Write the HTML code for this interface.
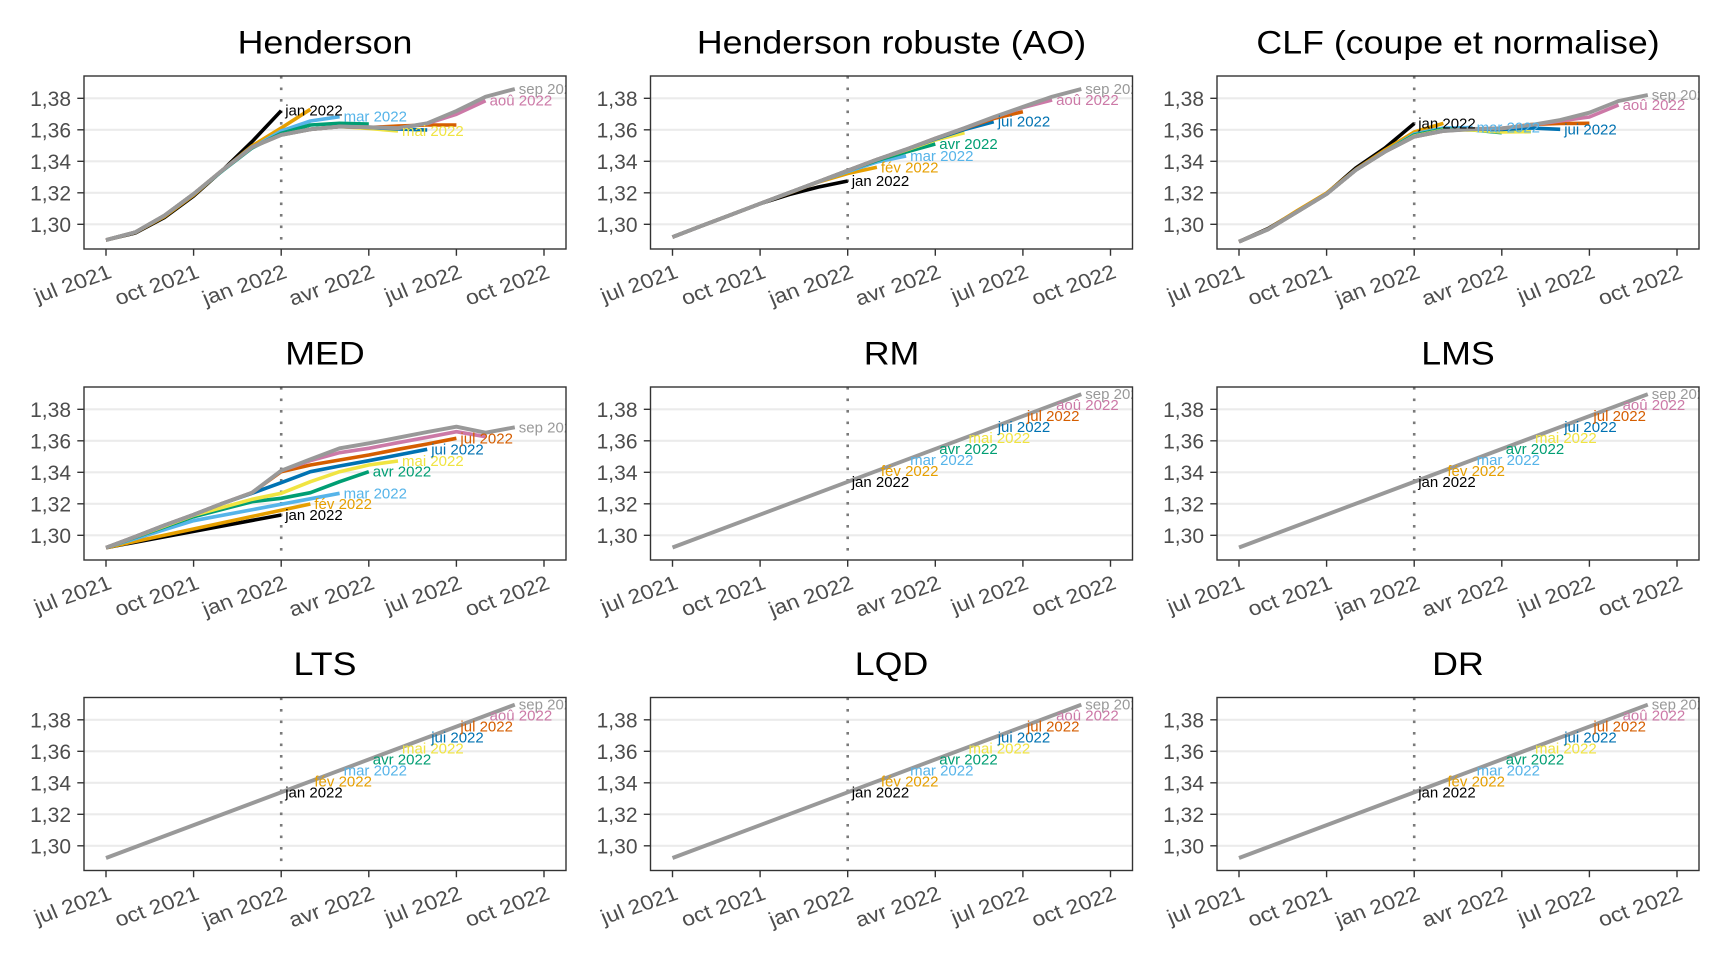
<!DOCTYPE html>
<html><head><meta charset="utf-8">
<style>
html,body{margin:0;padding:0;background:#fff;}
svg{display:block;}
text{font-family:"Liberation Sans",Arial,Helvetica,sans-serif;}
.t{font-size:32.5px;fill:#000;text-anchor:middle;}
.yl{font-size:21px;fill:#4D4D4D;text-anchor:end;}
.xl{font-size:20.5px;fill:#4D4D4D;text-anchor:end;}
.lb{font-size:15px;}
.s{fill:none;stroke-width:3.6;stroke-linejoin:round;stroke-linecap:butt;}
.g{fill:none;stroke:#999999;stroke-width:3.9;stroke-linejoin:round;}
</style></head>
<body>
<svg width="1728" height="960" viewBox="0 0 1728 960" xmlns="http://www.w3.org/2000/svg">
<rect width="1728" height="960" fill="#fff"/>
<defs>
<clipPath id="cp"><rect x="0" y="0" width="482" height="173"/></clipPath>
<g id="bg">
<rect x="0" y="0" width="482" height="173" fill="#fff"/>
<path d="M0,22.3H482M0,53.8H482M0,85.3H482M0,116.8H482M0,148.3H482" stroke="#EBEBEB" stroke-width="2.2" fill="none"/>
<line x1="197.2" y1="0" x2="197.2" y2="173" stroke="#7a7a7a" stroke-width="2.6" stroke-dasharray="2.6 8.9"/>
</g>
<g id="fr">
<rect x="0" y="0" width="482" height="173" fill="none" stroke="#333333" stroke-width="1.4"/>
<path d="M-6.7,22.3H0M-6.7,53.8H0M-6.7,85.3H0M-6.7,116.8H0M-6.7,148.3H0M22,173V179.7M109.6,173V179.7M197.2,173V179.7M284.8,173V179.7M372.4,173V179.7M460,173V179.7" stroke="#333333" stroke-width="1.4" fill="none"/>
</g>
</defs>

<!-- Panel 1: Henderson -->
<g transform="translate(84,76)">
<use href="#bg"/>
<g clip-path="url(#cp)">
<path class="s" stroke="#000000" d="M22,164L51.2,157L80.4,141.5L109.6,120L138.8,94L168,65.7L197.2,34.7"/>
<path class="s" stroke="#E69F00" d="M22,164L51.2,156.5L80.4,140.5L109.6,119L138.8,94L168,70L197.2,52L226.4,33.3"/>
<path class="s" stroke="#56B4E9" d="M22,164L51.2,156.3L80.4,139.6L109.6,118L138.8,94.5L168,72L197.2,55L226.4,45L255.6,40.7"/>
<path class="s" stroke="#009E73" d="M22,164L51.2,156.3L80.4,139.6L109.6,118L138.8,94.5L168,72L197.2,57.3L226.4,49L255.6,47.3L284.8,48"/>
<path class="s" stroke="#F0E442" d="M22,164L51.2,156.3L80.4,139.6L109.6,118L138.8,93.9L168,71.2L197.2,58.9L226.4,53.3L255.6,50.6L284.8,52.5L314,55"/>
<path class="s" stroke="#0072B2" d="M22,164L51.2,156.3L80.4,139.6L109.6,118L138.8,93.9L168,71.2L197.2,58.9L226.4,53.3L255.6,50.6L284.8,51.5L314,53L343.2,54"/>
<path class="s" stroke="#D55E00" d="M22,164L51.2,156.3L80.4,139.6L109.6,118L138.8,93.9L168,71.2L197.2,58.9L226.4,53.3L255.6,50.6L284.8,51.5L314,50L343.2,49L372.4,49"/>
<path class="s" stroke="#CC79A7" d="M22,164L51.2,156.3L80.4,139.6L109.6,118L138.8,93.9L168,71.2L197.2,58.9L226.4,53.3L255.6,50.6L284.8,51.2L314,52L343.2,47.5L372.4,38.3L401.6,24.7"/>
<path class="g" d="M22,164L51.2,156.3L80.4,139.6L109.6,118L138.8,93.9L168,71.2L197.2,58.9L226.4,53.3L255.6,50.6L284.8,51.2L314,52.2L343.2,47.3L372.4,35L401.6,20.7L430.8,13"/>
<text class="lb" x="201.2" y="39.7" fill="#000000">jan 2022</text>
<text class="lb" x="259.6" y="45.7" fill="#56B4E9">mar 2022</text>
<text class="lb" x="318" y="60" fill="#F0E442">mai 2022</text>
<text class="lb" x="405.6" y="29.7" fill="#CC79A7">aoû 2022</text>
<text class="lb" x="434.8" y="18" fill="#999999">sep 2022</text>
</g>
<use href="#fr"/>
<text class="t" transform="translate(241,-22.3) scale(1.1,1)">Henderson</text>
<text class="yl" x="-13" y="29.8">1,38</text><text class="yl" x="-13" y="61.3">1,36</text><text class="yl" x="-13" y="92.8">1,34</text><text class="yl" x="-13" y="124.3">1,32</text><text class="yl" x="-13" y="155.8">1,30</text>
<text class="xl" transform="translate(23,187.5) scale(1.12,1) rotate(-21)" y="14.8">jul 2021</text>
<text class="xl" transform="translate(110.6,187.5) scale(1.12,1) rotate(-21)" y="14.8">oct 2021</text>
<text class="xl" transform="translate(198.2,187.5) scale(1.12,1) rotate(-21)" y="14.8">jan 2022</text>
<text class="xl" transform="translate(285.8,187.5) scale(1.12,1) rotate(-21)" y="14.8">avr 2022</text>
<text class="xl" transform="translate(373.4,187.5) scale(1.12,1) rotate(-21)" y="14.8">jul 2022</text>
<text class="xl" transform="translate(461,187.5) scale(1.12,1) rotate(-21)" y="14.8">oct 2022</text>
</g>

<!-- Panel 2: Henderson robuste (AO) -->
<g transform="translate(650.5,76)">
<use href="#bg"/>
<g clip-path="url(#cp)">
<path class="s" stroke="#000000" d="M22,161.1L51.2,149.8L80.4,138.8L109.6,127.7L138.8,118.5L168,111L197.2,105"/>
<path class="s" stroke="#E69F00" d="M22,161.1L51.2,149.8L80.4,138.8L109.6,127.7L138.8,117L168,106L197.2,97.5L226.4,91.3"/>
<path class="s" stroke="#56B4E9" d="M22,161.1L51.2,149.8L80.4,138.8L109.6,127.7L138.8,116.7L168,105.7L197.2,95.5L226.4,86L255.6,80"/>
<path class="s" stroke="#009E73" d="M22,161.1L51.2,149.8L80.4,138.8L109.6,127.7L138.8,116.7L168,105.7L197.2,94.6L226.4,84.5L255.6,76L284.8,68"/>
<path class="s" stroke="#F0E442" d="M22,161.1L51.2,149.8L80.4,138.8L109.6,127.7L138.8,116.7L168,105.7L197.2,94.6L226.4,83.6L255.6,74L284.8,64L314,56.7"/>
<path class="s" stroke="#0072B2" d="M22,161.1L51.2,149.8L80.4,138.8L109.6,127.7L138.8,116.7L168,105.7L197.2,94.6L226.4,83.6L255.6,73.4L284.8,63L314,53.5L343.2,45.7"/>
<path class="s" stroke="#D55E00" d="M22,161.1L51.2,149.8L80.4,138.8L109.6,127.7L138.8,116.7L168,105.7L197.2,94.6L226.4,83.6L255.6,73.4L284.8,62.4L314,52.5L343.2,42.5L372.4,35.7"/>
<path class="s" stroke="#CC79A7" d="M22,161.1L51.2,149.8L80.4,138.8L109.6,127.7L138.8,116.7L168,105.7L197.2,94.6L226.4,83.6L255.6,73.4L284.8,62.4L314,52.1L343.2,41.3L372.4,31.5L401.6,24"/>
<path class="g" d="M22,161.1L51.2,149.8L80.4,138.8L109.6,127.7L138.8,116.7L168,105.7L197.2,94.6L226.4,83.6L255.6,73.4L284.8,62.4L314,52.1L343.2,41.1L372.4,30.9L401.6,20.7L430.8,13"/>
<text class="lb" x="201.2" y="110" fill="#000000">jan 2022</text>
<text class="lb" x="230.4" y="96.3" fill="#E69F00">fév 2022</text>
<text class="lb" x="259.6" y="85" fill="#56B4E9">mar 2022</text>
<text class="lb" x="288.8" y="73" fill="#009E73">avr 2022</text>
<text class="lb" x="347.2" y="50.7" fill="#0072B2">jui 2022</text>
<text class="lb" x="405.6" y="29" fill="#CC79A7">aoû 2022</text>
<text class="lb" x="434.8" y="18" fill="#999999">sep 2022</text>
</g>
<use href="#fr"/>
<text class="t" transform="translate(241,-22.3) scale(1.1,1)">Henderson robuste (AO)</text>
<text class="yl" x="-13" y="29.8">1,38</text><text class="yl" x="-13" y="61.3">1,36</text><text class="yl" x="-13" y="92.8">1,34</text><text class="yl" x="-13" y="124.3">1,32</text><text class="yl" x="-13" y="155.8">1,30</text>
<text class="xl" transform="translate(23,187.5) scale(1.12,1) rotate(-21)" y="14.8">jul 2021</text>
<text class="xl" transform="translate(110.6,187.5) scale(1.12,1) rotate(-21)" y="14.8">oct 2021</text>
<text class="xl" transform="translate(198.2,187.5) scale(1.12,1) rotate(-21)" y="14.8">jan 2022</text>
<text class="xl" transform="translate(285.8,187.5) scale(1.12,1) rotate(-21)" y="14.8">avr 2022</text>
<text class="xl" transform="translate(373.4,187.5) scale(1.12,1) rotate(-21)" y="14.8">jul 2022</text>
<text class="xl" transform="translate(461,187.5) scale(1.12,1) rotate(-21)" y="14.8">oct 2022</text>
</g>

<!-- Panel 3: CLF -->
<g transform="translate(1217,76)">
<use href="#bg"/>
<g clip-path="url(#cp)">
<path class="s" stroke="#000000" d="M22,165.7L51.2,152.5L80.4,135L109.6,117.5L138.8,92L168,72L197.2,47.5"/>
<path class="s" stroke="#E69F00" d="M22,165.7L51.2,153L80.4,134.5L109.6,117L138.8,93.5L168,74L197.2,56L226.4,47.3"/>
<path class="s" stroke="#56B4E9" d="M22,165.7L51.2,153.3L80.4,135.7L109.6,118L138.8,94L168,75.7L197.2,58L226.4,52L255.6,51.5"/>
<path class="s" stroke="#009E73" d="M22,165.7L51.2,153.3L80.4,135.7L109.6,118L138.8,94L168,75.7L197.2,59L226.4,53L255.6,54L284.8,56.7"/>
<path class="s" stroke="#F0E442" d="M22,165.7L51.2,153.3L80.4,135.7L109.6,118L138.8,94L168,75.7L197.2,60L226.4,54L255.6,54L284.8,56L314,55.7"/>
<path class="s" stroke="#0072B2" d="M22,165.7L51.2,153.3L80.4,135.7L109.6,118L138.8,94L168,75.7L197.2,60.5L226.4,54.5L255.6,53L284.8,53.5L314,52L343.2,53.3"/>
<path class="s" stroke="#D55E00" d="M22,165.7L51.2,153.3L80.4,135.7L109.6,118L138.8,94L168,75.7L197.2,60.7L226.4,55L255.6,53L284.8,52.5L314,48.5L343.2,47.5L372.4,47.3"/>
<path class="s" stroke="#CC79A7" d="M22,165.7L51.2,153.3L80.4,135.7L109.6,118L138.8,94L168,75.7L197.2,60.7L226.4,55L255.6,53L284.8,52.3L314,49L343.2,45L372.4,41L401.6,29"/>
<path class="g" d="M22,165.7L51.2,153.3L80.4,135.7L109.6,118L138.8,94L168,75.7L197.2,60.7L226.4,55L255.6,53L284.8,52.3L314,49L343.2,44L372.4,36.7L401.6,25L430.8,19"/>
<text class="lb" x="201.2" y="52.5" fill="#000000">jan 2022</text>
<text class="lb" x="259.6" y="56.5" fill="#56B4E9">mar 2022</text>
<text class="lb" x="347.2" y="58.3" fill="#0072B2">jui 2022</text>
<text class="lb" x="405.6" y="34" fill="#CC79A7">aoû 2022</text>
<text class="lb" x="434.8" y="24" fill="#999999">sep 2022</text>
</g>
<use href="#fr"/>
<text class="t" transform="translate(241,-22.3) scale(1.1,1)">CLF (coupe et normalise)</text>
<text class="yl" x="-13" y="29.8">1,38</text><text class="yl" x="-13" y="61.3">1,36</text><text class="yl" x="-13" y="92.8">1,34</text><text class="yl" x="-13" y="124.3">1,32</text><text class="yl" x="-13" y="155.8">1,30</text>
<text class="xl" transform="translate(23,187.5) scale(1.12,1) rotate(-21)" y="14.8">jul 2021</text>
<text class="xl" transform="translate(110.6,187.5) scale(1.12,1) rotate(-21)" y="14.8">oct 2021</text>
<text class="xl" transform="translate(198.2,187.5) scale(1.12,1) rotate(-21)" y="14.8">jan 2022</text>
<text class="xl" transform="translate(285.8,187.5) scale(1.12,1) rotate(-21)" y="14.8">avr 2022</text>
<text class="xl" transform="translate(373.4,187.5) scale(1.12,1) rotate(-21)" y="14.8">jul 2022</text>
<text class="xl" transform="translate(461,187.5) scale(1.12,1) rotate(-21)" y="14.8">oct 2022</text>
</g>

<!-- Panel 4: MED -->
<g transform="translate(84,387)">
<use href="#bg"/>
<g clip-path="url(#cp)">
<path class="s" stroke="#000000" d="M22,160.7L197.2,128"/>
<path class="s" stroke="#E69F00" d="M22,160.7L226.4,117"/>
<path class="s" stroke="#56B4E9" d="M22,160.7L109.6,133.7L255.6,106.3"/>
<path class="s" stroke="#009E73" d="M22,160.7L109.6,129.7L168,114.7L197.2,111.3L226.4,105.7L255.6,94.7L284.8,84.7"/>
<path class="s" stroke="#F0E442" d="M22,160.7L109.6,128.3L168,112.3L197.2,106.3L226.4,94.7L255.6,84.7L284.8,78L314,74"/>
<path class="s" stroke="#0072B2" d="M22,160.7L51.2,149.7L80.4,138.3L109.6,127.7L138.8,116.3L168,106.3L197.2,95.7L226.4,84.7L255.6,79L284.8,73.7L314,68L343.2,62.3"/>
<path class="s" stroke="#D55E00" d="M22,160.7L51.2,149.7L80.4,138.3L109.6,127.7L138.8,116.3L168,105.7L197.2,84.7L226.4,78L255.6,73L284.8,68L314,62.3L343.2,57L372.4,51.3"/>
<path class="s" stroke="#CC79A7" d="M22,160.7L51.2,149.7L80.4,138.3L109.6,127.7L138.8,116.3L168,105.7L197.2,83.7L226.4,73.7L255.6,65.7L284.8,61.3L314,55.7L343.2,50.3L372.4,44.7L401.6,49.7"/>
<path class="g" d="M22,160.7L51.2,149.7L80.4,138.3L109.6,127.7L138.8,116.3L168,105.7L197.2,83.7L226.4,72.3L255.6,61.3L284.8,56.3L314,50.7L343.2,45L372.4,39.7L401.6,45.7L430.8,40.3"/>
<text class="lb" x="201.2" y="133" fill="#000000">jan 2022</text>
<text class="lb" x="230.4" y="122" fill="#E69F00">fév 2022</text>
<text class="lb" x="259.6" y="111.3" fill="#56B4E9">mar 2022</text>
<text class="lb" x="288.8" y="89.7" fill="#009E73">avr 2022</text>
<text class="lb" x="318" y="79" fill="#F0E442">mai 2022</text>
<text class="lb" x="347.2" y="67.3" fill="#0072B2">jui 2022</text>
<text class="lb" x="376.4" y="56.3" fill="#D55E00">jul 2022</text>
<text class="lb" x="434.8" y="45.3" fill="#999999">sep 2022</text>
</g>
<use href="#fr"/>
<text class="t" transform="translate(241,-22.3) scale(1.1,1)">MED</text>
<text class="yl" x="-13" y="29.8">1,38</text><text class="yl" x="-13" y="61.3">1,36</text><text class="yl" x="-13" y="92.8">1,34</text><text class="yl" x="-13" y="124.3">1,32</text><text class="yl" x="-13" y="155.8">1,30</text>
<text class="xl" transform="translate(23,187.5) scale(1.12,1) rotate(-21)" y="14.8">jul 2021</text>
<text class="xl" transform="translate(110.6,187.5) scale(1.12,1) rotate(-21)" y="14.8">oct 2021</text>
<text class="xl" transform="translate(198.2,187.5) scale(1.12,1) rotate(-21)" y="14.8">jan 2022</text>
<text class="xl" transform="translate(285.8,187.5) scale(1.12,1) rotate(-21)" y="14.8">avr 2022</text>
<text class="xl" transform="translate(373.4,187.5) scale(1.12,1) rotate(-21)" y="14.8">jul 2022</text>
<text class="xl" transform="translate(461,187.5) scale(1.12,1) rotate(-21)" y="14.8">oct 2022</text>
</g>

<!-- Panel 5: RM -->
<g transform="translate(650.5,387)">
<use href="#bg"/>
<g clip-path="url(#cp)">
<path class="g" d="M22,160.5L430.8,7.2"/>
<text class="lb" x="201.2" y="99.8" fill="#000000">jan 2022</text>
<text class="lb" x="230.4" y="88.9" fill="#E69F00">fév 2022</text>
<text class="lb" x="259.6" y="77.9" fill="#56B4E9">mar 2022</text>
<text class="lb" x="288.8" y="67" fill="#009E73">avr 2022</text>
<text class="lb" x="318" y="56" fill="#F0E442">mai 2022</text>
<text class="lb" x="347.2" y="45.1" fill="#0072B2">jui 2022</text>
<text class="lb" x="376.4" y="34.1" fill="#D55E00">jul 2022</text>
<text class="lb" x="405.6" y="23.2" fill="#CC79A7">aoû 2022</text>
<text class="lb" x="434.8" y="12.2" fill="#999999">sep 2022</text>
</g>
<use href="#fr"/>
<text class="t" transform="translate(241,-22.3) scale(1.1,1)">RM</text>
<text class="yl" x="-13" y="29.8">1,38</text><text class="yl" x="-13" y="61.3">1,36</text><text class="yl" x="-13" y="92.8">1,34</text><text class="yl" x="-13" y="124.3">1,32</text><text class="yl" x="-13" y="155.8">1,30</text>
<text class="xl" transform="translate(23,187.5) scale(1.12,1) rotate(-21)" y="14.8">jul 2021</text>
<text class="xl" transform="translate(110.6,187.5) scale(1.12,1) rotate(-21)" y="14.8">oct 2021</text>
<text class="xl" transform="translate(198.2,187.5) scale(1.12,1) rotate(-21)" y="14.8">jan 2022</text>
<text class="xl" transform="translate(285.8,187.5) scale(1.12,1) rotate(-21)" y="14.8">avr 2022</text>
<text class="xl" transform="translate(373.4,187.5) scale(1.12,1) rotate(-21)" y="14.8">jul 2022</text>
<text class="xl" transform="translate(461,187.5) scale(1.12,1) rotate(-21)" y="14.8">oct 2022</text>
</g>

<!-- Panel 6: LMS -->
<g transform="translate(1217,387)">
<use href="#bg"/>
<g clip-path="url(#cp)">
<path class="g" d="M22,160.5L430.8,7.2"/>
<text class="lb" x="201.2" y="99.8" fill="#000000">jan 2022</text>
<text class="lb" x="230.4" y="88.9" fill="#E69F00">fév 2022</text>
<text class="lb" x="259.6" y="77.9" fill="#56B4E9">mar 2022</text>
<text class="lb" x="288.8" y="67" fill="#009E73">avr 2022</text>
<text class="lb" x="318" y="56" fill="#F0E442">mai 2022</text>
<text class="lb" x="347.2" y="45.1" fill="#0072B2">jui 2022</text>
<text class="lb" x="376.4" y="34.1" fill="#D55E00">jul 2022</text>
<text class="lb" x="405.6" y="23.2" fill="#CC79A7">aoû 2022</text>
<text class="lb" x="434.8" y="12.2" fill="#999999">sep 2022</text>
</g>
<use href="#fr"/>
<text class="t" transform="translate(241,-22.3) scale(1.1,1)">LMS</text>
<text class="yl" x="-13" y="29.8">1,38</text><text class="yl" x="-13" y="61.3">1,36</text><text class="yl" x="-13" y="92.8">1,34</text><text class="yl" x="-13" y="124.3">1,32</text><text class="yl" x="-13" y="155.8">1,30</text>
<text class="xl" transform="translate(23,187.5) scale(1.12,1) rotate(-21)" y="14.8">jul 2021</text>
<text class="xl" transform="translate(110.6,187.5) scale(1.12,1) rotate(-21)" y="14.8">oct 2021</text>
<text class="xl" transform="translate(198.2,187.5) scale(1.12,1) rotate(-21)" y="14.8">jan 2022</text>
<text class="xl" transform="translate(285.8,187.5) scale(1.12,1) rotate(-21)" y="14.8">avr 2022</text>
<text class="xl" transform="translate(373.4,187.5) scale(1.12,1) rotate(-21)" y="14.8">jul 2022</text>
<text class="xl" transform="translate(461,187.5) scale(1.12,1) rotate(-21)" y="14.8">oct 2022</text>
</g>

<!-- Panel 7: LTS -->
<g transform="translate(84,697.5)">
<use href="#bg"/>
<g clip-path="url(#cp)">
<path class="g" d="M22,160.5L430.8,7.2"/>
<text class="lb" x="201.2" y="99.8" fill="#000000">jan 2022</text>
<text class="lb" x="230.4" y="88.9" fill="#E69F00">fév 2022</text>
<text class="lb" x="259.6" y="77.9" fill="#56B4E9">mar 2022</text>
<text class="lb" x="288.8" y="67" fill="#009E73">avr 2022</text>
<text class="lb" x="318" y="56" fill="#F0E442">mai 2022</text>
<text class="lb" x="347.2" y="45.1" fill="#0072B2">jui 2022</text>
<text class="lb" x="376.4" y="34.1" fill="#D55E00">jul 2022</text>
<text class="lb" x="405.6" y="23.2" fill="#CC79A7">aoû 2022</text>
<text class="lb" x="434.8" y="12.2" fill="#999999">sep 2022</text>
</g>
<use href="#fr"/>
<text class="t" transform="translate(241,-22.3) scale(1.1,1)">LTS</text>
<text class="yl" x="-13" y="29.8">1,38</text><text class="yl" x="-13" y="61.3">1,36</text><text class="yl" x="-13" y="92.8">1,34</text><text class="yl" x="-13" y="124.3">1,32</text><text class="yl" x="-13" y="155.8">1,30</text>
<text class="xl" transform="translate(23,187.5) scale(1.12,1) rotate(-21)" y="14.8">jul 2021</text>
<text class="xl" transform="translate(110.6,187.5) scale(1.12,1) rotate(-21)" y="14.8">oct 2021</text>
<text class="xl" transform="translate(198.2,187.5) scale(1.12,1) rotate(-21)" y="14.8">jan 2022</text>
<text class="xl" transform="translate(285.8,187.5) scale(1.12,1) rotate(-21)" y="14.8">avr 2022</text>
<text class="xl" transform="translate(373.4,187.5) scale(1.12,1) rotate(-21)" y="14.8">jul 2022</text>
<text class="xl" transform="translate(461,187.5) scale(1.12,1) rotate(-21)" y="14.8">oct 2022</text>
</g>

<!-- Panel 8: LQD -->
<g transform="translate(650.5,697.5)">
<use href="#bg"/>
<g clip-path="url(#cp)">
<path class="g" d="M22,160.5L430.8,7.2"/>
<text class="lb" x="201.2" y="99.8" fill="#000000">jan 2022</text>
<text class="lb" x="230.4" y="88.9" fill="#E69F00">fév 2022</text>
<text class="lb" x="259.6" y="77.9" fill="#56B4E9">mar 2022</text>
<text class="lb" x="288.8" y="67" fill="#009E73">avr 2022</text>
<text class="lb" x="318" y="56" fill="#F0E442">mai 2022</text>
<text class="lb" x="347.2" y="45.1" fill="#0072B2">jui 2022</text>
<text class="lb" x="376.4" y="34.1" fill="#D55E00">jul 2022</text>
<text class="lb" x="405.6" y="23.2" fill="#CC79A7">aoû 2022</text>
<text class="lb" x="434.8" y="12.2" fill="#999999">sep 2022</text>
</g>
<use href="#fr"/>
<text class="t" transform="translate(241,-22.3) scale(1.1,1)">LQD</text>
<text class="yl" x="-13" y="29.8">1,38</text><text class="yl" x="-13" y="61.3">1,36</text><text class="yl" x="-13" y="92.8">1,34</text><text class="yl" x="-13" y="124.3">1,32</text><text class="yl" x="-13" y="155.8">1,30</text>
<text class="xl" transform="translate(23,187.5) scale(1.12,1) rotate(-21)" y="14.8">jul 2021</text>
<text class="xl" transform="translate(110.6,187.5) scale(1.12,1) rotate(-21)" y="14.8">oct 2021</text>
<text class="xl" transform="translate(198.2,187.5) scale(1.12,1) rotate(-21)" y="14.8">jan 2022</text>
<text class="xl" transform="translate(285.8,187.5) scale(1.12,1) rotate(-21)" y="14.8">avr 2022</text>
<text class="xl" transform="translate(373.4,187.5) scale(1.12,1) rotate(-21)" y="14.8">jul 2022</text>
<text class="xl" transform="translate(461,187.5) scale(1.12,1) rotate(-21)" y="14.8">oct 2022</text>
</g>

<!-- Panel 9: DR -->
<g transform="translate(1217,697.5)">
<use href="#bg"/>
<g clip-path="url(#cp)">
<path class="g" d="M22,160.5L430.8,7.2"/>
<text class="lb" x="201.2" y="99.8" fill="#000000">jan 2022</text>
<text class="lb" x="230.4" y="88.9" fill="#E69F00">fév 2022</text>
<text class="lb" x="259.6" y="77.9" fill="#56B4E9">mar 2022</text>
<text class="lb" x="288.8" y="67" fill="#009E73">avr 2022</text>
<text class="lb" x="318" y="56" fill="#F0E442">mai 2022</text>
<text class="lb" x="347.2" y="45.1" fill="#0072B2">jui 2022</text>
<text class="lb" x="376.4" y="34.1" fill="#D55E00">jul 2022</text>
<text class="lb" x="405.6" y="23.2" fill="#CC79A7">aoû 2022</text>
<text class="lb" x="434.8" y="12.2" fill="#999999">sep 2022</text>
</g>
<use href="#fr"/>
<text class="t" transform="translate(241,-22.3) scale(1.1,1)">DR</text>
<text class="yl" x="-13" y="29.8">1,38</text><text class="yl" x="-13" y="61.3">1,36</text><text class="yl" x="-13" y="92.8">1,34</text><text class="yl" x="-13" y="124.3">1,32</text><text class="yl" x="-13" y="155.8">1,30</text>
<text class="xl" transform="translate(23,187.5) scale(1.12,1) rotate(-21)" y="14.8">jul 2021</text>
<text class="xl" transform="translate(110.6,187.5) scale(1.12,1) rotate(-21)" y="14.8">oct 2021</text>
<text class="xl" transform="translate(198.2,187.5) scale(1.12,1) rotate(-21)" y="14.8">jan 2022</text>
<text class="xl" transform="translate(285.8,187.5) scale(1.12,1) rotate(-21)" y="14.8">avr 2022</text>
<text class="xl" transform="translate(373.4,187.5) scale(1.12,1) rotate(-21)" y="14.8">jul 2022</text>
<text class="xl" transform="translate(461,187.5) scale(1.12,1) rotate(-21)" y="14.8">oct 2022</text>
</g>
</svg>
</body></html>
